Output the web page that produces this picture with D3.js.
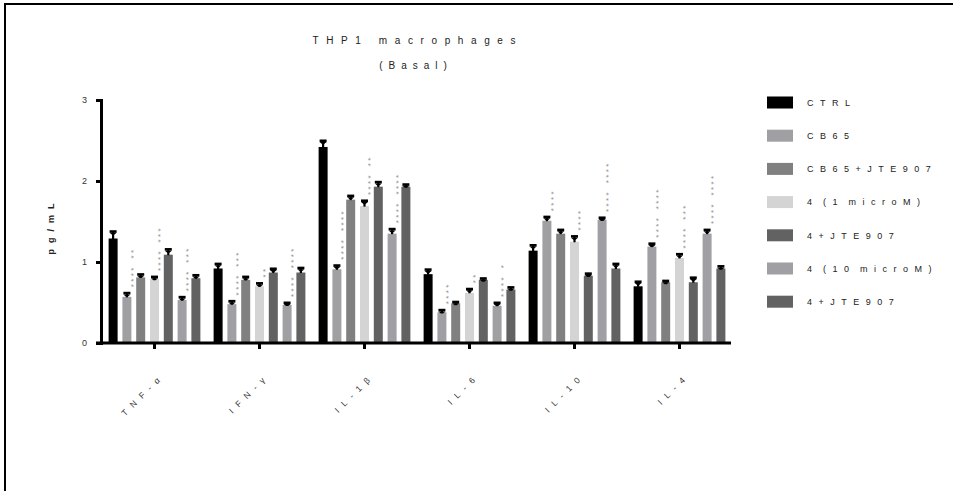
<!DOCTYPE html>
<html>
<head>
<meta charset="utf-8">
<script src="https://cdn.jsdelivr.net/npm/d3@7"></script>
<style>
  html, body { margin: 0; padding: 0; background: #fff; }
  svg { display: block; font-family: "Liberation Sans", Arial, sans-serif; }
</style>
</head>
<body>
<svg id="chart" width="954" height="491"></svg>
<script>
// Cytokine panels (x categories)
const cytokines = ["TNF-α", "IFN-γ", "IL-1β", "IL-6", "IL-10", "IL-4"];

// Treatment groups (legend order, bar order inside each panel)
const treatments = ["CTRL", "CB65", "CB65+JTE907", "4 (1 microM)", "4+JTE907", "4 (10 microM)", "4+JTE907"];
const treatmentColors = ["#000000", "#a0a0a4", "#808080", "#d4d4d4", "#626262", "#a0a0a4", "#626262"];

// Mean concentrations (pg/mL), one value per cytokine
const ctrlMean       = [1.29, 0.92, 2.42, 0.85, 1.14, 0.70];
const cb65Mean       = [0.57, 0.48, 0.91, 0.38, 1.51, 1.19];
const cb65JteMean    = [0.81, 0.78, 1.77, 0.49, 1.35, 0.75];
const c4LowMean      = [0.79, 0.70, 1.69, 0.62, 1.25, 1.05];
const c4LowJteMean   = [1.09, 0.87, 1.93, 0.78, 0.83, 0.75];
const c4HighMean     = [0.53, 0.47, 1.35, 0.46, 1.52, 1.35];
const c4HighJteMean  = [0.80, 0.87, 1.93, 0.66, 0.92, 0.92];

// Standard error of the mean
const ctrlErr        = [0.09, 0.06, 0.08, 0.06, 0.07, 0.06];
const cb65Err        = [0.05, 0.04, 0.05, 0.03, 0.05, 0.04];
const cb65JteErr     = [0.04, 0.04, 0.05, 0.02, 0.05, 0.02];
const c4LowErr       = [0.03, 0.04, 0.07, 0.05, 0.07, 0.05];
const c4LowJteErr    = [0.07, 0.05, 0.06, 0.02, 0.03, 0.06];
const c4HighErr      = [0.04, 0.03, 0.06, 0.04, 0.03, 0.05];
const c4HighJteErr   = [0.04, 0.06, 0.03, 0.03, 0.06, 0.03];

// Significance marks, read bottom to top (space separates two comparisons)
const noSig          = ["", "", "", "", "", ""];
const cb65Sig        = ["**** **", "**** ***", "**** ****", "****", "****", "**** ****"];
const c4LowSig       = ["**** ***", "**", "**** **", "**", "****", "**** ***"];
const c4HighSig      = ["**** ***", "**** ****", "**** ****", "**** *", "**** ****", "**** ****"];

const yTicks = [0, 1, 2, 3];

const means = [ctrlMean, cb65Mean, cb65JteMean, c4LowMean, c4LowJteMean, c4HighMean, c4HighJteMean];
const errs  = [ctrlErr, cb65Err, cb65JteErr, c4LowErr, c4LowJteErr, c4HighErr, c4HighJteErr];
const sigs  = [noSig, cb65Sig, noSig, c4LowSig, noSig, c4HighSig, noSig];

const rows = [];
cytokines.forEach((c, ci) => {
  treatments.forEach((t, ti) => {
    rows.push({ cytokine: c, series: ti, value: means[ti][ci], err: errs[ti][ci], sig: sigs[ti][ci] });
  });
});

const svg = d3.select("#chart");
const FONT = "'Liberation Sans', Arial, sans-serif";

// frame lines along the top and left of the figure
svg.append("line").attr("x1", 4).attr("x2", 953).attr("y1", 4).attr("y2", 4)
  .attr("stroke", "#000").attr("stroke-width", 2);
svg.append("line").attr("x1", 5).attr("x2", 5).attr("y1", 4).attr("y2", 491)
  .attr("stroke", "#000").attr("stroke-width", 2);

// scales
const x0 = d3.scaleBand().domain(cytokines).range([102, 732]).paddingInner(0).paddingOuter(0);
const x1 = d3.scaleBand().domain(d3.range(treatments.length)).range([0, x0.bandwidth()])
  .paddingInner(0.348).paddingOuter(0.479);
const y = d3.scaleLinear().domain([0, 3]).range([343, 100]);

// title
const titleLS = 7.6;
svg.append("text").attr("x", 414 + titleLS / 2).attr("y", 44)
  .attr("text-anchor", "middle").attr("font-size", 10).attr("letter-spacing", titleLS)
  .attr("fill", "#222").text("THP1 macrophages");
const subLS = 6;
svg.append("text").attr("x", 413 + subLS / 2).attr("y", 69)
  .attr("text-anchor", "middle").attr("font-size", 10).attr("letter-spacing", subLS)
  .attr("fill", "#222").text("(Basal)");

// bars
const bars = svg.append("g");
bars.selectAll("rect").data(rows).join("rect")
  .attr("x", d => x0(d.cytokine) + x1(d.series))
  .attr("y", d => y(d.value))
  .attr("width", x1.bandwidth())
  .attr("height", d => y(0) - y(d.value))
  .attr("fill", d => treatmentColors[d.series]);

// error bars (upper only)
const eb = svg.append("g").attr("fill", "#000");
rows.forEach(d => {
  const cx = x0(d.cytokine) + x1(d.series) + x1.bandwidth() / 2;
  const yTop = y(d.value + d.err);
  const yBase = y(d.value);
  eb.append("rect").attr("x", cx - 1.1).attr("y", yTop).attr("width", 2.2).attr("height", yBase - yTop + 0.5);
  eb.append("rect").attr("x", cx - 3.5).attr("y", yTop - 1).attr("width", 7).attr("height", 2.6);
  eb.append("path").attr("d", `M${cx - 3.5},${yTop + 1.6}L${cx + 3.5},${yTop + 1.6}L${cx + 1.1},${yTop + 3.6}L${cx - 1.1},${yTop + 3.6}Z`);
});

// significance asterisks, one vertical run of text per bar
const sigG = svg.append("g").attr("fill", "#8c8c8c").attr("font-size", 8).attr("font-family", FONT);
sigG.selectAll("text").data(rows.filter(d => d.sig)).join("text")
  .attr("transform", d => {
    const sx = x0(d.cytokine) + x1(d.series) + x1.bandwidth() - 0.5;
    const y0 = y(d.value + d.err) - 5.5;
    return `translate(${sx + 4.6},${y0}) rotate(-90)`;
  })
  .attr("text-anchor", "start")
  .attr("letter-spacing", 2.4)
  .attr("word-spacing", 2)
  .text(d => d.sig);

// y axis
const yAxis = svg.append("g").attr("transform", "translate(101,0)")
  .call(d3.axisLeft(y).tickValues(yTicks).tickFormat(d3.format("d")).tickSize(5).tickSizeOuter(0).tickPadding(9));
yAxis.select(".domain").attr("stroke-width", 3).attr("stroke-linecap", "square");
yAxis.selectAll(".tick line").attr("stroke-width", 3);
yAxis.selectAll(".tick text").attr("font-size", 9).attr("font-family", FONT).attr("fill", "#333");

// x axis
const xAxis = svg.append("g").attr("transform", "translate(0,343)")
  .call(d3.axisBottom(x0).tickSize(6).tickSizeOuter(0));
xAxis.select(".domain").attr("d", "M96,0H731").attr("stroke-width", 3);
xAxis.selectAll(".tick line").attr("stroke-width", 3);
const xLS = 6.5;
xAxis.selectAll(".tick text")
  .attr("font-size", 8.5).attr("font-family", FONT).attr("fill", "#333")
  .attr("letter-spacing", xLS).attr("text-anchor", "end")
  .attr("x", 0).attr("y", 0).attr("dy", 0)
  .attr("transform", `translate(${6 + xLS * 0.707},${38 - xLS * 0.707}) rotate(-45)`);

// y axis title
const ylLS = 6;
svg.append("text")
  .attr("transform", `translate(53.5,${223 + ylLS / 2}) rotate(-90)`)
  .attr("text-anchor", "middle").attr("font-size", 9).attr("font-weight", "bold")
  .attr("letter-spacing", ylLS).attr("fill", "#222").text("pg/mL");

// legend
const legend = svg.append("g").attr("font-family", FONT);
treatments.forEach((t, i) => {
  const cy = 102.5 + i * 33.2;
  legend.append("rect").attr("x", 767).attr("y", cy - 6).attr("width", 26).attr("height", 12)
    .attr("fill", treatmentColors[i]);
  legend.append("text").attr("x", 807).attr("y", cy + 3.3).attr("font-size", 9)
    .attr("letter-spacing", 6.5).attr("word-spacing", -4.5).attr("fill", "#222").text(t);
});
</script>
</body>
</html>
